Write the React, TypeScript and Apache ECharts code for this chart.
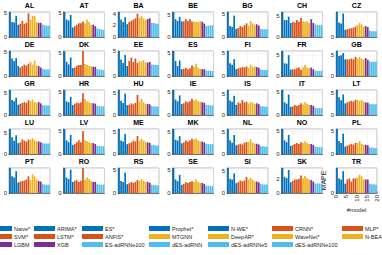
import React, { useEffect, useRef } from 'react';
import * as echarts from 'echarts';

const countries = ['AL','AT','BA','BE','BG','CH','CZ','DE','DK','EE','ES','FI','FR','GB','GR','HR','HU','IE','IS','IT','LT','LU','LV','ME','MK','NL','NO','PL','PT','RO','RS','SE','SI','SK','TR'];

const models = ['Naive*','ARIMA*','ES*','Prophet*','N-WE*','CRNN*','MLP*','SVM*','LSTM*','ANFIS*','MTGNN','DeepAR*','WaveNet*','N-BEATS','LGBM','XGB','ES-adRNNe100','dES-adRNN','dES-adRNNe5','dES-adRNNe100'];
const modelColors = ['#0072BD','#0072BD','#0072BD','#0072BD','#0072BD','#D95319','#D95319','#D95319','#D95319','#D95319','#EDB120','#EDB120','#EDB120','#EDB120','#7E2F8E','#7E2F8E','#4DBEEE','#4DBEEE','#4DBEEE','#4DBEEE'];
const xTicks = [0, 5, 10, 15, 20];

const mapeAL = [5.3,3.2,3.1,4.5,2.6,2.8,3.4,2.8,3.0,5.0,3.7,4.5,4.5,3.2,3.0,3.0,2.6,2.5,2.4,2.4];
const mapeAT = [5.3,3.7,3.5,4.7,2.0,2.3,2.6,2.9,2.9,3.3,2.9,3.7,3.2,2.6,2.6,2.3,1.8,1.7,1.6,1.5];
const mapeBA = [4.3,3.0,2.6,3.4,2.2,2.6,2.8,3.0,3.2,4.0,3.3,3.6,3.2,2.9,3.1,3.2,2.4,2.4,2.3,2.3];
const mapeBE = [5.6,4.0,3.6,4.5,3.5,3.5,4.0,3.6,4.0,3.5,3.4,3.4,3.3,3.6,3.4,3.0,2.5,2.5,2.6,2.6];
const mapeBG = [5.5,2.4,2.2,4.7,1.8,2.0,2.4,2.2,2.6,3.0,2.5,3.5,3.0,2.7,2.8,2.5,1.8,1.7,1.7,1.7];
const mapeCH = [5.9,4.0,4.0,4.8,3.3,3.6,3.4,4.0,3.6,4.5,3.7,3.6,3.7,3.3,4.2,3.3,3.0,2.8,2.8,2.8];
const mapeCZ = [4.8,2.8,2.6,4.5,1.4,1.5,1.6,1.7,1.8,2.0,2.3,2.7,2.4,2.0,2.1,1.9,1.2,1.1,1.1,1.1];
const mapeDE = [5.3,3.7,3.2,3.8,2.1,1.8,2.1,2.4,2.2,2.6,3.0,2.4,3.3,2.2,2.1,1.8,1.5,1.4,1.4,1.4];
const mapeDK = [5.3,3.1,2.5,4.0,1.7,1.8,2.2,2.4,2.4,5.4,2.6,2.4,2.2,2.1,2.0,2.0,1.5,1.4,1.4,1.3];
const mapeEE = [5.0,3.3,2.6,4.2,2.0,3.0,3.7,2.8,3.5,2.6,3.0,2.9,3.2,2.7,2.7,2.8,2.3,2.2,2.2,2.2];
const mapeES = [5.5,3.3,2.2,3.4,1.5,1.6,1.8,1.5,1.7,2.3,2.0,2.7,1.8,1.5,1.5,1.5,1.2,1.2,1.1,1.1];
const mapeFI = [5.5,2.8,2.5,3.7,1.5,1.7,1.8,2.0,1.9,2.1,1.8,2.5,2.0,2.1,2.0,1.8,1.4,1.3,1.3,1.3];
const mapeFR = [5.9,3.0,2.9,4.9,1.5,1.6,1.6,1.8,2.0,1.5,2.0,2.6,2.0,1.8,2.0,1.6,1.3,1.2,1.2,1.2];
const mapeGB = [6.0,4.8,5.0,5.5,4.0,4.0,4.0,4.2,4.0,4.6,4.2,4.6,4.2,4.0,4.3,3.9,3.5,3.4,3.4,3.4];
const mapeGR = [5.8,3.5,3.2,4.0,2.4,2.6,2.8,3.0,2.8,3.4,3.2,3.6,3.0,2.8,3.0,2.7,2.3,2.2,2.2,2.2];
const mapeHR = [5.5,3.0,2.8,4.0,2.2,2.5,2.7,2.6,2.8,4.8,3.5,3.0,2.8,2.6,2.6,2.5,2.0,1.9,1.9,1.9];
const mapeHU = [5.6,3.2,2.7,4.8,2.2,2.3,2.6,2.4,2.7,4.5,3.0,3.6,2.8,2.5,2.5,2.4,2.0,1.9,1.9,1.9];
const mapeIE = [5.5,3.4,3.0,4.3,2.4,2.6,3.0,2.8,3.0,3.6,3.2,3.4,3.0,2.9,2.8,2.7,2.2,2.2,2.1,2.1];
const mapeIS = [6.0,3.5,3.2,4.6,2.4,3.0,2.8,3.6,3.0,3.2,2.8,3.1,3.0,2.6,2.8,2.6,2.1,2.1,2.0,2.0];
const mapeIT = [5.5,2.8,2.5,4.5,1.8,1.9,2.2,2.0,2.2,2.6,2.3,2.8,2.4,2.2,2.2,2.0,1.6,1.5,1.5,1.5];
const mapeLT = [5.6,4.0,3.3,4.6,2.6,2.8,3.0,3.2,3.0,3.4,3.4,3.2,3.4,3.0,2.8,2.8,2.5,2.4,2.4,2.4];
const mapeLU = [6.0,4.0,3.2,4.5,2.6,2.8,3.5,3.2,3.0,3.5,3.4,3.8,3.3,3.0,3.0,2.8,2.6,2.5,2.5,2.5];
const mapeLV = [5.5,3.0,2.6,4.2,2.0,2.2,2.6,3.0,2.6,5.0,3.0,2.8,2.6,2.4,2.4,2.2,1.8,1.8,1.7,1.7];
const mapeME = [5.6,3.0,2.8,4.5,2.2,2.4,2.6,3.0,2.8,4.0,3.0,3.4,3.0,2.7,2.6,2.5,2.0,2.0,1.9,1.9];
const mapeMK = [5.6,3.2,3.0,4.0,2.4,2.6,3.0,2.8,3.0,3.4,3.2,3.5,3.0,2.8,2.8,2.6,2.3,2.2,2.2,2.2];
const mapeNL = [5.8,3.2,2.6,4.4,2.0,2.2,2.4,2.2,2.6,2.8,2.8,3.4,2.6,2.4,2.4,2.2,1.8,1.8,1.7,1.7];
const mapeNO = [5.5,3.0,2.6,4.2,1.8,2.0,2.2,2.4,2.2,2.6,2.4,2.8,2.4,2.2,2.2,2.0,1.6,1.6,1.5,1.5];
const mapePL = [5.4,2.8,2.4,4.4,1.6,1.8,2.0,2.2,2.0,2.4,2.4,2.8,2.2,2.0,2.0,1.9,1.4,1.4,1.3,1.3];
const mapePT = [4.8,3.2,3.0,4.2,2.0,2.2,2.3,2.4,2.6,3.2,2.5,3.6,3.2,2.6,2.3,2.2,1.7,1.6,1.6,1.6];
const mapeRO = [4.5,2.8,2.5,4.2,2.0,2.2,2.3,2.0,2.2,4.5,2.4,2.8,2.5,2.2,2.0,2.0,1.6,1.5,1.5,1.5];
const mapeRS = [5.4,2.6,2.4,4.4,1.9,2.1,2.4,2.2,2.4,2.8,2.6,3.0,2.6,2.4,2.4,2.2,1.8,1.7,1.7,1.7];
const mapeSE = [5.5,3.0,2.6,4.0,1.8,2.0,2.4,2.2,2.4,2.6,2.4,3.0,2.5,2.2,2.2,2.0,1.6,1.6,1.5,1.5];
const mapeSI = [5.6,3.2,3.0,4.4,2.2,2.4,2.8,2.6,2.8,3.6,3.0,3.4,3.0,2.6,2.6,2.4,2.0,1.9,1.9,1.9];
const mapeSK = [3.7,2.4,2.2,3.4,1.6,1.8,2.0,2.0,2.1,2.6,2.2,2.5,2.2,2.0,1.9,1.7,1.4,1.4,1.4,1.4];
const mapeTR = [4.8,2.8,2.6,4.2,1.8,2.6,2.8,2.2,2.8,2.8,3.0,3.5,3.2,2.6,2.6,2.6,1.8,1.7,1.7,1.6];

const mapeByCountry = [mapeAL,mapeAT,mapeBA,mapeBE,mapeBG,mapeCH,mapeCZ,mapeDE,mapeDK,mapeEE,mapeES,mapeFI,mapeFR,mapeGB,mapeGR,mapeHR,mapeHU,mapeIE,mapeIS,mapeIT,mapeLT,mapeLU,mapeLV,mapeME,mapeMK,mapeNL,mapeNO,mapePL,mapePT,mapeRO,mapeRS,mapeSE,mapeSI,mapeSK,mapeTR];
const yTickStep = [5,5,2,5,5,5,5,5,5,5,5,5,5,5,5,5,5,5,5,5,5,5,5,5,5,5,5,5,5,5,5,5,5,2,5];

const legendColX = [-9, 34, 82, 149, 208, 272, 342];
const legendRowY = [225.5, 233.5, 241.5];

const FONT = 'Liberation Sans, Arial, Helvetica, sans-serif';
const AX = '#262626';

export default function App() {
  const ref = useRef<HTMLDivElement>(null);
  useEffect(() => {
    const chart = echarts.init(ref.current!, null, { renderer: 'svg' });
    const grid: any[] = [];
    const xAxis: any[] = [];
    const yAxis: any[] = [];
    const series: any[] = [];
    const title: any[] = [];
    const n = countries.length;
    countries.forEach((c, i) => {
      const col = i % 7;
      const row = Math.floor(i / 7);
      const left = 9 + col * 54.5;
      const top = 12 + row * 39;
      const last = i === n - 1;
      grid.push({ left, top, width: 41, height: 25, show: true, borderColor: '#8c8c8c', borderWidth: 0.6, backgroundColor: 'transparent', containLabel: false });
      title.push({ text: c, left: left + 20.5, top: top - 10, textAlign: 'center', padding: 0, textStyle: { fontSize: 7, fontWeight: 'bold', color: '#000', fontFamily: FONT } });
      xAxis.push({
        gridIndex: i, type: 'value', min: 0, max: 20, interval: 5,
        axisLine: { show: true, lineStyle: { color: AX, width: 0.6 } },
        axisTick: { show: last, inside: true, length: 1.5, lineStyle: { color: AX, width: 0.5 } },
        axisLabel: { show: last, rotate: 90, fontSize: 6, margin: 2, color: AX, fontFamily: FONT, formatter: (v: number) => (xTicks.includes(v) ? String(v) : '') },
        splitLine: { show: true, lineStyle: { color: '#ececec', width: 0.5 } },
        name: last ? '#model' : '', nameLocation: 'middle', nameGap: 14,
        nameTextStyle: { fontSize: 6, color: AX, fontFamily: FONT },
      });
      const vals = mapeByCountry[i];
      const step = yTickStep[i];
      yAxis.push({
        gridIndex: i, type: 'value', min: 0, max: Math.max(...vals), interval: step,
        axisLine: { show: true, lineStyle: { color: AX, width: 0.6 } },
        axisTick: { show: true, inside: true, length: 1.5, lineStyle: { color: AX, width: 0.5 } },
        axisLabel: { fontSize: 6, margin: 2, color: AX, fontFamily: FONT, formatter: (v: number) => (Math.abs(v / step - Math.round(v / step)) < 1e-6 ? String(v) : '') },
        splitLine: { show: true, lineStyle: { color: '#ececec', width: 0.5 } },
        name: last ? 'MAPE' : '', nameLocation: 'middle', nameGap: 7, nameRotate: 90,
        nameTextStyle: { fontSize: 7, color: AX, fontFamily: FONT },
      });
      series.push({
        type: 'bar', xAxisIndex: i, yAxisIndex: i, barWidth: 1.7, silent: true,
        data: vals.map((v, k) => ({ value: [k + 0.5, v], itemStyle: { color: modelColors[k] } })),
      });
    });
    const legend: any[] = [];
    models.forEach((m, k) => {
      const col = k % 7;
      const row = Math.floor(k / 7);
      series.push({ type: 'line', name: m, xAxisIndex: 0, yAxisIndex: 0, data: [], color: modelColors[k], itemStyle: { color: modelColors[k] }, lineStyle: { color: modelColors[k] } });
      legend.push({
        data: [{ name: m, icon: 'rect' }], left: legendColX[col], top: legendRowY[row], padding: 0,
        itemWidth: 21, itemHeight: 5, selectedMode: false,
        textStyle: { fontSize: 5.5, color: AX, fontFamily: FONT, padding: [0, 0, 0, -3] },
      });
    });
    chart.setOption({ animation: false, backgroundColor: '#fff', title, grid, xAxis, yAxis, series, legend });
    return () => chart.dispose();
  }, []);
  return <div ref={ref} style={{ position: 'fixed', left: 0, top: 0, width: 382, height: 255 }} />;
}
